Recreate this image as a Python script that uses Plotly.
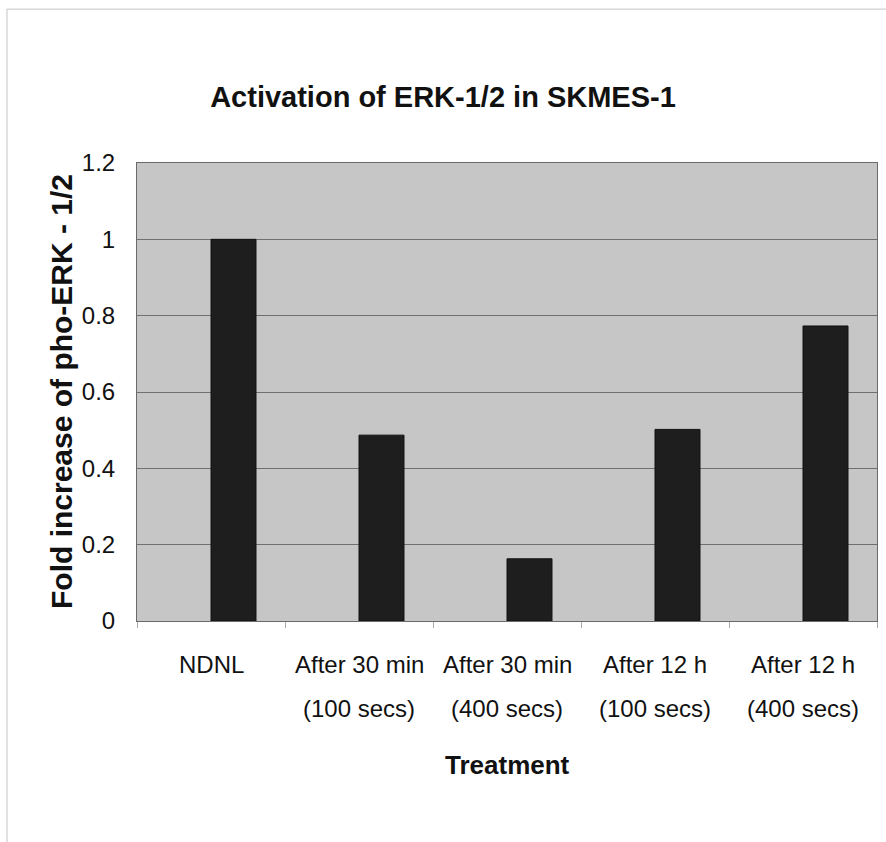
import plotly.graph_objects as go

# Treatment groups and measured fold change
categories = ["NDNL", "After 30 min (100 secs)", "After 30 min (400 secs)",
              "After 12 h (100 secs)", "After 12 h (400 secs)"]
label_line1 = ["NDNL", "After 30 min", "After 30 min", "After 12 h", "After 12 h"]
label_line2 = ["", "(100 secs)", "(400 secs)", "(100 secs)", "(400 secs)"]
fold_increase = [1.0, 0.487, 0.163, 0.502, 0.773]
y_ticks = [0, 0.2, 0.4, 0.6, 0.8, 1.0, 1.2]
y_tick_text = ["0", "0.2", "0.4", "0.6", "0.8", "1", "1.2"]

FONT = "Liberation Sans, Arial, sans-serif"

fig = go.Figure()
fig.add_trace(go.Bar(
    x=categories,
    y=fold_increase,
    width=0.304,
    offset=0,
    marker=dict(color="#1e1e1e", line=dict(color="#111111", width=1)),
    showlegend=False,
))

annotations = []
for cat, l1, l2 in zip(categories, label_line1, label_line2):
    annotations.append(dict(x=cat, xref="x", y=0, yref="paper", text=l1,
                            showarrow=False, yanchor="middle", yshift=-43,
                            font=dict(family=FONT, size=24, color="#111")))
    if l2:
        annotations.append(dict(x=cat, xref="x", y=0, yref="paper", text=l2,
                                showarrow=False, yanchor="middle", yshift=-87,
                                font=dict(family=FONT, size=24, color="#111")))

annotations.append(dict(x=0.5, xref="paper", y=0, yref="paper", text="<b>Treatment</b>",
                        showarrow=False, yanchor="middle", yshift=-144,
                        font=dict(family=FONT, size=26, color="#111")))
annotations.append(dict(x=-0.1027, xref="paper", y=0.5, yref="paper",
                        text="<b>Fold increase of pho-ERK - 1/2</b>", textangle=-90,
                        showarrow=False, xanchor="center", yanchor="middle",
                        font=dict(family=FONT, size=30, color="#111")))

fig.update_layout(
    width=886, height=842,
    margin=dict(l=137, r=9, t=163, b=221),
    paper_bgcolor="white",
    plot_bgcolor="#c6c6c6",
    title=dict(text="<b>Activation of ERK-1/2 in SKMES-1</b>", x=0.5, xref="container",
               xanchor="center", y=1 - 97 / 842, yref="container", yanchor="middle",
               font=dict(family=FONT, size=29, color="#111")),
    annotations=annotations,
    shapes=[dict(type="rect", xref="paper", yref="paper",
                 x0=-0.1757, x1=1.03, y0=-0.5, y1=1.336,
                 line=dict(color="#c4c4c4", width=1), layer="below")],
)

fig.update_xaxes(
    type="category",
    showticklabels=False,
    ticks="outside", tickson="boundaries", ticklen=6, tickcolor="#aaaaaa",
    showgrid=False,
    showline=True, linecolor="#6a6a6a", linewidth=1, mirror=True,
    range=[-0.5, 4.5],
)
fig.update_yaxes(
    range=[0, 1.2],
    tickvals=y_ticks, ticktext=y_tick_text,
    tickfont=dict(family=FONT, size=24, color="#111"),
    ticks="", ticklabelstandoff=16,
    showgrid=True, gridcolor="#707070", gridwidth=1,
    showline=True, linecolor="#6a6a6a", linewidth=1, mirror=True,
    zeroline=False,
)

fig.write_html("out.html")
